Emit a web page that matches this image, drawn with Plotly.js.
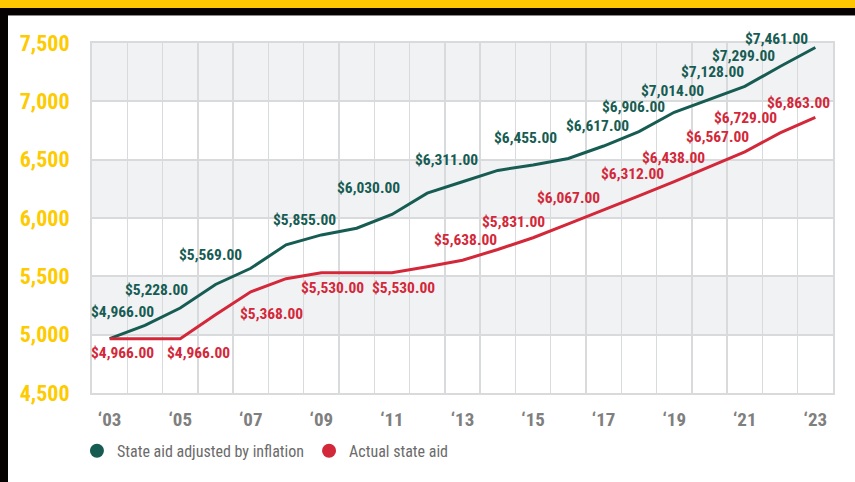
<!DOCTYPE html>
<html>
<head>
<meta charset="utf-8">
<script src="https://cdn.plot.ly/plotly-3.0.1.min.js"></script>
<style>
  html, body { margin: 0; padding: 0; background: #ffffff; }
  #wrap { position: relative; width: 855px; height: 482px; overflow: hidden; }
  #chart { position: absolute; left: 0; top: 0; width: 855px; height: 482px; }
  .bar-yellow { position: absolute; left: 0; top: 0; width: 855px; height: 8px; background: #FFC700; z-index: 5; }
  .bar-black { position: absolute; left: 0; top: 8px; width: 855px; height: 8px; background: #060202; z-index: 5; border-bottom: 1px solid #8a8a8a; box-sizing: border-box; }
  .bar-left { position: absolute; left: 0; top: 8px; width: 8px; height: 474px; background: #060202; z-index: 5; }
</style>
</head>
<body>
<div id="wrap">
  <div id="chart"></div>
  <div class="bar-yellow"></div>
  <div class="bar-black"></div>
  <div class="bar-left"></div>
</div>
<script>
// ---- data ----
const years = [2003, 2004, 2005, 2006, 2007, 2008, 2009, 2010, 2011, 2012, 2013,
               2014, 2015, 2016, 2017, 2018, 2019, 2020, 2021, 2022, 2023];
const aidAdjusted = [4966, 5080, 5228, 5430, 5569, 5770, 5855, 5912, 6030, 6213, 6311,
                     6408, 6455, 6510, 6617, 6740, 6906, 7014, 7128, 7299, 7461];
const aidActual = [4966, 4966, 4966, 5170, 5368, 5480, 5530, 5530, 5530, 5583, 5638,
                   5730, 5831, 5950, 6067, 6190, 6312, 6438, 6567, 6729, 6863];
const labeledYears = [2003, 2005, 2007, 2009, 2011, 2013, 2015, 2017, 2019, 2020, 2021, 2022, 2023];
const xTickYears = [2003, 2005, 2007, 2009, 2011, 2013, 2015, 2017, 2019, 2021, 2023];
const xTickLabels = ['\u201803', '\u201805', '\u201807', '\u201809', '\u201811', '\u201813',
                     '\u201815', '\u201817', '\u201819', '\u201821', '\u201823'];
const yTicks = [4500, 5000, 5500, 6000, 6500, 7000, 7500];
const seriesNames = ['State aid adjusted by inflation', 'Actual state aid'];

// ---- styles ----
const GREEN = '#175C53';
const RED = '#D3283A';
const GRID = '#D9DADC';
const BAND = '#F1F2F4';
const FONT = 'Roboto Condensed, Roboto, Liberation Sans, sans-serif';
// label offsets in pixels [dx, dy] relative to the point (style only)
const greenLabelOffsets = [[13,-27],[-24,-18],[-40,-13],[-17,-15],[-23,-27],[-16,-22],[-8,-27],
                           [-6,-20],[-41,-5],[-37,-9],[-32,-14],[-37,-10],[-39,-9]];
const redLabelOffsets = [[13,14],[18,14],[21,22],[11,15],[12,15],[3,-20],[-20,-16],
                         [-35,-12],[-42,-8],[-36,-9],[-27,-15],[-35,-15],[-17,-14]];

function money(v) {
  return '$' + v.toLocaleString('en-US', {minimumFractionDigits: 2, maximumFractionDigits: 2});
}

const traces = [
  {x: years, y: aidAdjusted, type: 'scatter', mode: 'lines', name: seriesNames[0],
   line: {color: GREEN, width: 3}, showlegend: false, hoverinfo: 'x+y'},
  {x: years, y: aidActual, type: 'scatter', mode: 'lines', name: seriesNames[1],
   line: {color: RED, width: 3}, showlegend: false, hoverinfo: 'x+y'},
  // legend entries (circle markers)
  {x: [null], y: [null], type: 'scatter', mode: 'markers', name: seriesNames[0],
   marker: {color: GREEN, size: 14}},
  {x: [null], y: [null], type: 'scatter', mode: 'markers', name: seriesNames[1],
   marker: {color: RED, size: 14}}
];

const annotations = [];
function addLabels(values, offsets, color) {
  labeledYears.forEach((yr, i) => {
    const idx = years.indexOf(yr);
    annotations.push({
      x: yr, y: values[idx], xref: 'x', yref: 'y', text: money(values[idx]),
      showarrow: false, xanchor: 'center', yanchor: 'middle',
      xshift: offsets[i][0], yshift: -offsets[i][1],
      font: {family: FONT, size: 15.5, color: color, weight: 'bold'}
    });
  });
}
addLabels(aidAdjusted, greenLabelOffsets, GREEN);
addLabels(aidActual, redLabelOffsets, RED);

// alternating background bands built from the y ticks
const shapes = [];
for (let i = yTicks.length - 1; i > 0; i -= 2) {
  shapes.push({type: 'rect', xref: 'paper', yref: 'y', x0: 0, x1: 1,
               y0: yTicks[i - 1], y1: yTicks[i], fillcolor: BAND, line: {width: 0}, layer: 'below'});
}

const halfYears = years.map(y => y - 0.5).concat([years[years.length - 1] + 0.5]);

const layout = {
  width: 855, height: 482,
  margin: {l: 92, r: 22, t: 43, b: 89, pad: 0},
  paper_bgcolor: '#ffffff', plot_bgcolor: '#ffffff',
  showlegend: true,
  legend: {orientation: 'h', xref: 'container', yref: 'container', x: 0.09, y: 0.1,
           xanchor: 'left', yanchor: 'top', bgcolor: 'rgba(0,0,0,0)', tracegroupgap: 0,
           font: {family: FONT, size: 16, color: '#6b6b6b'}, itemclick: false},
  xaxis: {range: [years[0] - 0.5, years[years.length - 1] + 0.5],
          tickmode: 'array', tickvals: xTickYears, ticktext: xTickLabels,
          showgrid: false, zeroline: false, ticks: '',
          showline: true, linecolor: GRID, linewidth: 2, mirror: true,
          tickfont: {family: FONT, size: 19, color: '#7f7f7f', weight: 'bold'},
          ticklabelstandoff: 8,
          minor: {tickmode: 'array', tickvals: halfYears, showgrid: true, gridcolor: GRID, gridwidth: 1.5, ticks: ''}},
  yaxis: {range: [yTicks[0], yTicks[yTicks.length - 1]],
          tickmode: 'array', tickvals: yTicks, tickformat: ',',
          showgrid: true, gridcolor: GRID, gridwidth: 2, zeroline: false, ticks: '',
          showline: true, linecolor: GRID, linewidth: 2, mirror: true,
          ticklabelstandoff: 16,
          tickfont: {family: FONT, size: 22, color: '#FDCB00', weight: 'bold'}},
  shapes: shapes,
  annotations: annotations
};

Plotly.newPlot('chart', traces, layout, {displayModeBar: false, staticPlot: true});
</script>
</body>
</html>
